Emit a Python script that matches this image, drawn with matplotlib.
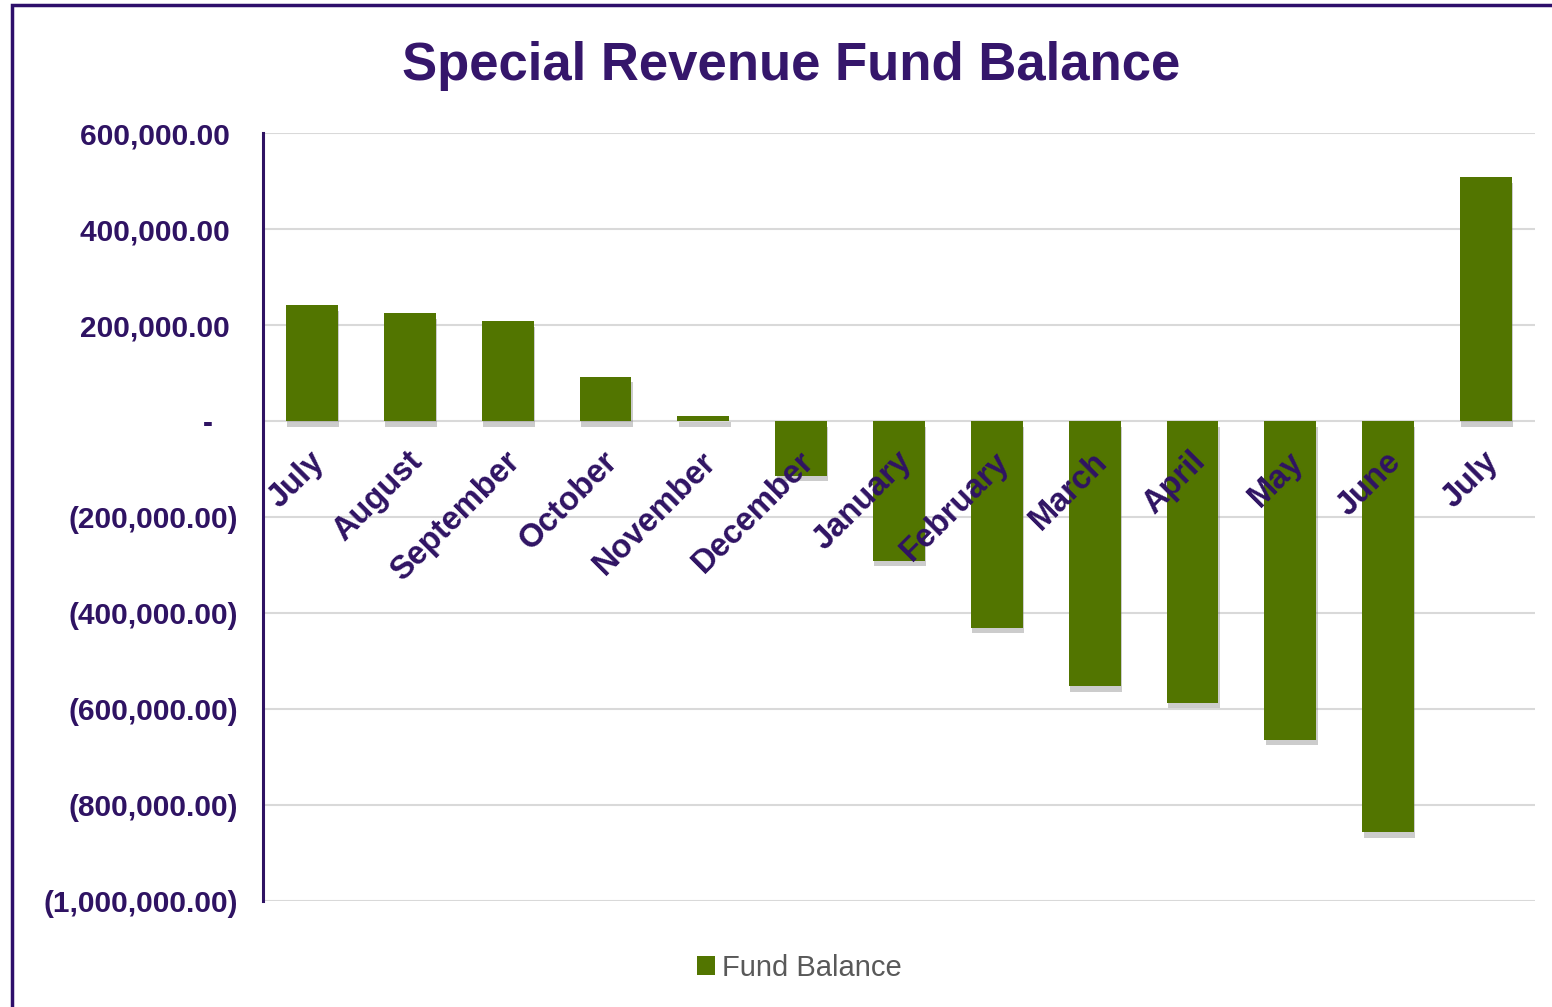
import matplotlib
matplotlib.use("Agg")
import matplotlib.pyplot as plt
import matplotlib.patheffects as pe
from matplotlib.patches import Rectangle, Patch
from matplotlib.ticker import FuncFormatter
from matplotlib.transforms import offset_copy

plt.rcParams['font.family'] = ['Liberation Sans', 'DejaVu Sans']

months = ["July", "August", "September", "October", "November", "December",
          "January", "February", "March", "April", "May", "June", "July"]
fund_balance = [241000, 225000, 208000, 92000, 10000, -114000,
                -291000, -431000, -553000, -587000, -664000, -857000, 508000]
y_ticks = [600000, 400000, 200000, 0, -200000, -400000,
           -600000, -800000, -1000000]

purple = "#2f1363"
green = "#527500"

fig = plt.figure(figsize=(15.52, 10.07), dpi=100)
ax = fig.add_axes([0.1695, 0.1053, 0.8195, 0.7626])

# frame line along the top and left of the chart area
fig.patches.append(Rectangle((0.0075, -0.05), 1.1, 1.045, transform=fig.transFigure,
                             fill=False, edgecolor="#2e0f6b", linewidth=2.5))

x = list(range(len(months)))
bars = ax.bar(x, fund_balance, width=0.53, color=green, zorder=3)
for b in bars:
    b.set_path_effects([pe.SimplePatchShadow(offset=(1, -4), shadow_rgbFace="#808080",
                                             alpha=0.4), pe.Normal()])

ax.set_xlim(-0.5, 12.5)
ax.set_ylim(-1000000, 600000)
ax.set_yticks(y_ticks)


def acct(v, pos):
    if v > 0:
        return f"{v:,.2f} "
    if v < 0:
        return f"({-v:,.2f})"
    return "-   "


ax.yaxis.set_major_formatter(FuncFormatter(acct))
ax.tick_params(axis="y", length=0, pad=18, labelsize=21.5, labelcolor=purple)
for t in ax.get_yticklabels():
    t.set_fontweight("bold")
ax.set_xticks([])

ax.grid(axis="y", color="#d9d9d9", linewidth=1.5, zorder=0)
ax.set_axisbelow(True)
for s in ["top", "right", "bottom"]:
    ax.spines[s].set_visible(False)
ax.spines["left"].set_color(purple)
ax.spines["left"].set_linewidth(2.2)
ax.spines["left"].set_zorder(4)

# month labels, rotated and hanging below the zero line
for i, m in enumerate(months):
    tr = offset_copy(ax.transData, fig=fig, x=8, y=-36, units="dots")
    ax.text(i, 0, m, transform=tr, rotation=45, rotation_mode="anchor",
            ha="right", va="center", fontsize=23.5, fontweight="bold",
            color=purple, zorder=5)

fig.text(0.5097, 0.934, "Special Revenue Fund Balance", ha="center", va="center",
         fontsize=38, fontweight="bold", color="#35166b")

leg = fig.legend(handles=[Patch(facecolor=green)], labels=["Fund Balance"],
                 loc="center", bbox_to_anchor=(0.515, 0.039), frameon=False,
                 fontsize=21, handlelength=0.6, handleheight=0.6, handletextpad=0.25)
for t in leg.get_texts():
    t.set_color("#595959")

fig.savefig("out.png", dpi=100, facecolor="white")
